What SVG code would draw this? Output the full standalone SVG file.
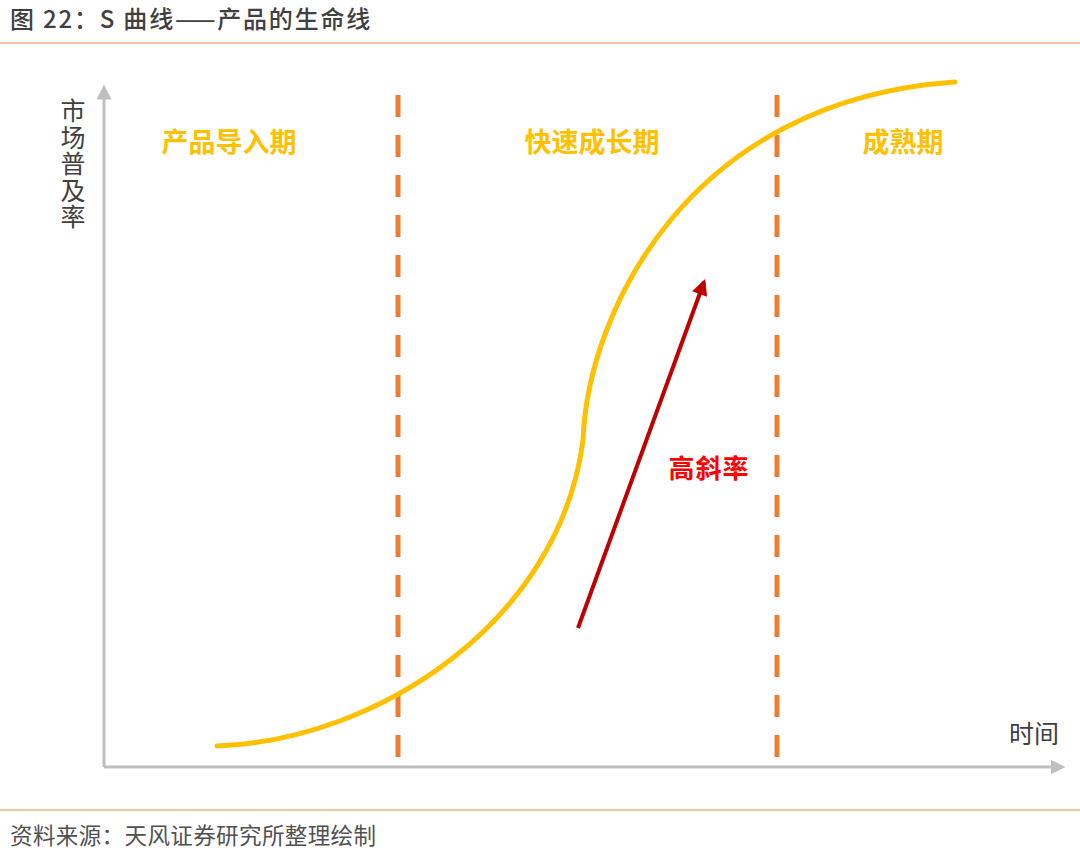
<svg xmlns="http://www.w3.org/2000/svg" width="1080" height="848" viewBox="0 0 1080 848">
  <style>
    text { font-family: "Noto Sans CJK SC", "Noto Sans", sans-serif; }
    .title { font-size: 24px; font-weight: 500; fill: #404040; letter-spacing: 1.8px; }
    .source { font-size: 22.5px; fill: #505050; letter-spacing: 0.4px; }
    .rule { stroke: #F4B183; stroke-width: 1.5; }
    .axis { stroke: #BFBFBF; stroke-width: 3; fill: none; }
    .divider { stroke: #ED7D31; stroke-width: 5; stroke-dasharray: 22 18; fill: none; }
    .phase { font-size: 27px; font-weight: bold; fill: #FFC000; text-anchor: middle; }
    .axislabel { font-size: 25px; fill: #404040; }
    .vlabel { writing-mode: vertical-rl; letter-spacing: 1.5px; }
    .curve { stroke: #FFC000; stroke-width: 5; fill: none; stroke-linecap: round; }
    .slope { stroke: #C00000; stroke-width: 4; fill: none; }
    .slopelabel { font-size: 26px; font-weight: bold; fill: #FF0000; text-anchor: middle; letter-spacing: 1px; }
  </style>
  <defs>
    <marker id="grayhead" viewBox="0 0 10 10" refX="5" refY="5" markerWidth="5" markerHeight="5" orient="auto" markerUnits="strokeWidth">
      <path d="M0,0 L10,5 L0,10 z" fill="#BFBFBF"/>
    </marker>
    <marker id="redhead" viewBox="0 0 10 10" refX="8" refY="5" markerWidth="4.5" markerHeight="4" orient="auto" markerUnits="strokeWidth">
      <path d="M0,0 L10,5 L0,10 z" fill="#C00000"/>
    </marker>
  </defs>
  <rect width="1080" height="848" fill="#FFFFFF"/>

  <g id="header">
    <text class="title" x="10" y="28">图 22：S 曲线——产品的生命线</text>
    <line class="rule" x1="0" y1="43" x2="1080" y2="43"/>
  </g>

  <g id="connectors">
    <path id="y-axis" class="axis" d="M104,767 L104,92" marker-end="url(#grayhead)"/>
    <path id="x-axis" class="axis" d="M104,767 L1058,767" marker-end="url(#grayhead)"/>
    <line id="divider-1" class="divider" x1="398" y1="95" x2="398" y2="757"/>
    <line id="divider-2" class="divider" x1="777" y1="95" x2="777" y2="757"/>
    <path id="slope-arrow" class="slope" d="M578,628 L704,282" marker-end="url(#redhead)"/>
  </g>

  <g id="s-curve">
    <path class="curve" d="M217,746 C380,740 560,620 583,440 C588,310 690,100 955,82"/>
  </g>

  <g id="y-label">
    <text class="axislabel vlabel" x="73" y="98">市场普及率</text>
  </g>

  <g id="x-label">
    <text class="axislabel" x="1034" y="743" text-anchor="middle" font-size="26">时间</text>
  </g>

  <g id="phase-intro">
    <text class="phase" x="229" y="152">产品导入期</text>
  </g>
  <g id="phase-growth">
    <text class="phase" x="592" y="152">快速成长期</text>
  </g>
  <g id="phase-mature">
    <text class="phase" x="903" y="152">成熟期</text>
  </g>

  <g id="slope-label">
    <text class="slopelabel" x="709" y="478">高斜率</text>
  </g>

  <g id="footer">
    <line class="rule" x1="0" y1="810" x2="1080" y2="810"/>
    <text class="source" x="10" y="844">资料来源：天风证券研究所整理绘制</text>
  </g>
</svg>
